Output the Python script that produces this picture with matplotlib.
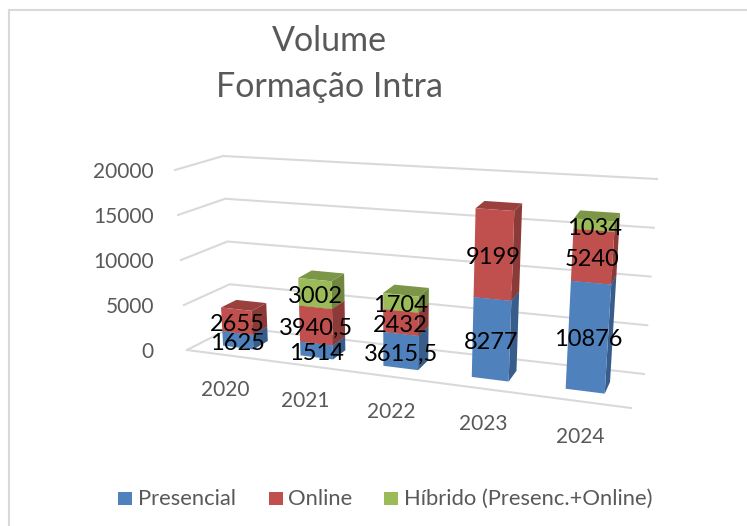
import matplotlib
matplotlib.use('Agg')
import matplotlib.pyplot as plt
from matplotlib.patches import Polygon, Rectangle

# dados
anos = ['2020', '2021', '2022', '2023', '2024']
presencial = [1625, 1514, 3615.5, 8277, 10876]
online = [2655, 3940.5, 2432, 9199, 5240]
hibrido = [0, 3002, 1704, 0, 1034]
rotulos_presencial = ['1625', '1514', '3615,5', '8277', '10876']
rotulos_online = ['2655', '3940,5', '2432', '9199', '5240']
rotulos_hibrido = ['', '3002', '1704', '', '1034']
ticks_y = [0, 5000, 10000, 15000, 20000]
Z_MAX = 20000

plt.rcParams['font.family'] = ['Lato', 'DejaVu Sans']

CINZA = '#595959'
GRADE = '#D9D9D9'
CORES = {
    'Presencial': ('#4F81BD', '#385D8A', '#3F6797'),
    'Online': ('#C0504D', '#8C3A38', '#9A403E'),
    'Hibrido': ('#9BBB59', '#708740', '#7C9647'),
}

# cantos do "cubo" em pixels: (u, v, z) -> (x, y)
FL0, FR0 = (187, 350), (631, 408)
BL0, BR0 = (232, 327), (644, 374)
FL1, FR1 = (175, 170), (645, 202)
BL1, BR1 = (223, 156), (657, 179)


def lerp(a, b, s):
    return (a[0] + (b[0] - a[0]) * s, a[1] + (b[1] - a[1]) * s)


def proj(u, v, z):
    """Projeccao trilinear para pixels"""
    s = z / Z_MAX
    f = lerp(lerp(FL0, FR0, u), lerp(FL1, FR1, u), s)
    b = lerp(lerp(BL0, BR0, u), lerp(BL1, BR1, u), s)
    return lerp(f, b, v)


def warp(t):
    # perspectiva ao longo do eixo x
    return 0.841 * t + 0.158 * t * t


fig = plt.figure(figsize=(7.47, 5.26), dpi=100)
ax = fig.add_axes([0, 0, 1, 1])
ax.set_xlim(0, 747)
ax.set_ylim(526, 0)
ax.axis('off')

# moldura (sem lado direito nem base)
ax.plot([8.5, 8.5], [526, 10], color=GRADE, lw=1.5)
ax.plot([8.5, 747], [10, 10], color=GRADE, lw=1.5)

# titulo
ax.text(329, 41, 'Volume', fontsize=24.5, color=CINZA, ha='center', va='center')
ax.text(329, 87, 'Formação Intra', fontsize=24.5, color=CINZA, ha='center', va='center')

# grelha
for z in ticks_y:
    pts = [proj(0, 0, z), proj(0, 1, z), proj(1, 1, z)]
    ax.plot([p[0] for p in pts], [p[1] for p in pts], color=GRADE, lw=1.5, zorder=1)
    ax.text(154, proj(0, 0, z)[1] + 2, str(z), fontsize=15, color=CINZA, ha='right', va='center')
ax.plot(*zip(proj(0, 0, 0), proj(1, 0, 0)), color=GRADE, lw=1.5, zorder=1)


def caixa(t, z0, z1, cores, ordem):
    u0, u1 = warp(t - 0.04), warp(t + 0.04)
    v0, v1 = 0.31, 0.66
    frente = [proj(u0, v0, z0), proj(u1, v0, z0), proj(u1, v0, z1), proj(u0, v0, z1)]
    lado = [proj(u1, v0, z0), proj(u1, v1, z0), proj(u1, v1, z1), proj(u1, v0, z1)]
    topo = [proj(u0, v0, z1), proj(u1, v0, z1), proj(u1, v1, z1), proj(u0, v1, z1)]
    for pts, cor in ((lado, cores[1]), (topo, cores[2]), (frente, cores[0])):
        ax.add_patch(Polygon(pts, closed=True, fc=cor, ec='none', zorder=ordem))


n = len(anos)
for i, ano in enumerate(anos):
    t = (i + 0.5) / n
    base = 0
    series = [('Presencial', presencial[i], rotulos_presencial[i]),
              ('Online', online[i], rotulos_online[i]),
              ('Hibrido', hibrido[i], rotulos_hibrido[i])]
    for k, (nome, valor, rotulo) in enumerate(series):
        if valor <= 0:
            continue
        caixa(t, base, base + valor, CORES[nome], 2 + i + k * 0.1)
        cx, cy = proj(warp(t), 0.31, base + valor / 2)
        ax.text(cx, cy + 3, rotulo, fontsize=17, color='black', ha='center', va='center', zorder=20)
        base += valor
    lx, ly = proj(warp(t), 0, 0)
    ax.text(lx, ly + 35.5, ano, fontsize=15, color=CINZA, ha='center', va='center')

# legenda
legenda = [(118, 138, 'Presencial', 'Presencial'), (269, 288, 'Online', 'Online'),
           (384, 404, 'Hibrido', 'Híbrido (Presenc.+Online)')]
for xq, xt, nome, texto in legenda:
    ax.add_patch(Rectangle((xq, 492), 14, 13, fc=CORES[nome][0], ec='none'))
    ax.text(xt, 499, texto, fontsize=15.8, color=CINZA, ha='left', va='center')

fig.savefig('out.png', dpi=100)
plt.close(fig)
